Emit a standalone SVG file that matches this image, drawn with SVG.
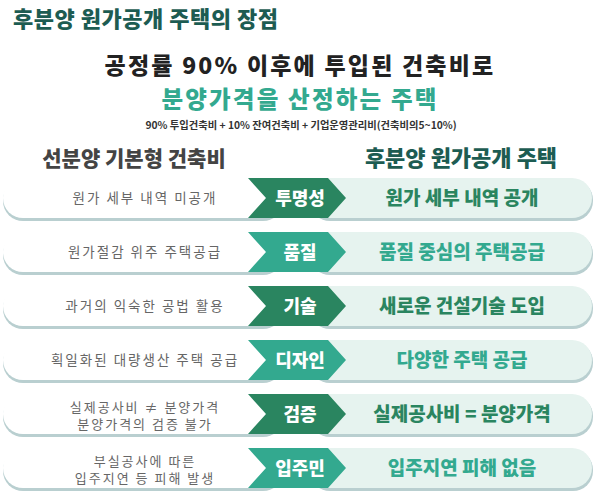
<svg xmlns="http://www.w3.org/2000/svg" width="600" height="496" viewBox="0 0 600 496">
<style>
text{font-family:"Noto Sans CJK KR","Noto Sans",sans-serif}
.title{font-size:22px;font-weight:900;fill:#1d5c52;letter-spacing:0.5px}
.head1{font-size:23px;font-weight:900;fill:#222;text-anchor:middle;letter-spacing:2.2px}
.head2{font-size:23.5px;font-weight:900;fill:#33a98f;text-anchor:middle;letter-spacing:2.2px}
.sub{font-size:10.3px;font-weight:700;fill:#333;text-anchor:middle}
.colL{font-size:21px;font-weight:900;fill:#444;text-anchor:middle}
.colR{font-size:22px;font-weight:900;fill:#1d5c52;text-anchor:middle}
.lt{font-size:13.5px;fill:#666;text-anchor:middle;letter-spacing:2px}
.lt2{font-size:13px;fill:#666;text-anchor:middle;letter-spacing:2px}
.tag{font-size:18px;font-weight:900;fill:#fff;text-anchor:middle}
.rt{font-size:19px;font-weight:900;text-anchor:middle}
.dk{fill:#2a8560}.lg{fill:#33a98f}
.lpill{fill:#fff}.rpill{fill:#e6f3ef}.shd{fill:#b9cfd0}
</style>
<defs>
<g id="rowbg">
<rect class="shd" x="3" y="2" width="280" height="41" rx="20"/>
<rect class="lpill" x="3" y="0" width="280" height="40" rx="20"/>
<rect class="shd" x="310" y="2" width="283" height="41" rx="20"/>
<rect class="rpill" x="310" y="0" width="282" height="40" rx="20"/>
</g>
</defs>
<rect width="600" height="496" fill="#fff"/>
<text class="title" x="13" y="27">후분양 원가공개 주택의 장점</text>
<text class="head1" x="300" y="73.5">공정률 90% 이후에 투입된 건축비로</text>
<text class="head2" x="300" y="107.5">분양가격을 산정하는 주택</text>
<text class="sub" x="301" y="129">90% 투입건축비 + 10% 잔여건축비 + 기업운영관리비(건축비의5~10%)</text>
<text class="colL" x="134" y="166">선분양 기본형 건축비</text>
<text class="colR" x="461" y="166">후분양 원가공개 주택</text>

<g id="row1" transform="translate(0,178)">
<use href="#rowbg"/>
<polygon class="dk" points="248,0 328,0 346,20 328,40 248,40 266,20"/>
<text class="lt" x="145" y="25">원가 세부 내역 미공개</text>
<text class="tag" x="300" y="27">투명성</text>
<text class="rt dk" x="462" y="27">원가 세부 내역 공개</text>
</g>
<g id="row2" transform="translate(0,232)">
<use href="#rowbg"/>
<polygon class="lg" points="248,0 328,0 346,20 328,40 248,40 266,20"/>
<text class="lt" x="145" y="25">원가절감 위주 주택공급</text>
<text class="tag" x="300" y="27">품질</text>
<text class="rt lg" x="462" y="27">품질 중심의 주택공급</text>
</g>
<g id="row3" transform="translate(0,286)">
<use href="#rowbg"/>
<polygon class="dk" points="248,0 328,0 346,20 328,40 248,40 266,20"/>
<text class="lt" x="145" y="25">과거의 익숙한 공법 활용</text>
<text class="tag" x="300" y="27">기술</text>
<text class="rt dk" x="462" y="27">새로운 건설기술 도입</text>
</g>
<g id="row4" transform="translate(0,340)">
<use href="#rowbg"/>
<polygon class="lg" points="248,0 328,0 346,20 328,40 248,40 266,20"/>
<text class="lt" x="145" y="25">획일화된 대량생산 주택 공급</text>
<text class="tag" x="300" y="27">디자인</text>
<text class="rt lg" x="462" y="27">다양한 주택 공급</text>
</g>
<g id="row5" transform="translate(0,394)">
<use href="#rowbg"/>
<polygon class="dk" points="248,0 328,0 346,20 328,40 248,40 266,20"/>
<text class="lt2" x="145" y="17.5">실제공사비 ≠ 분양가격</text>
<text class="lt2" x="145" y="35">분양가격의 검증 불가</text>
<text class="tag" x="300" y="27">검증</text>
<text class="rt dk" x="462" y="27">실제공사비 = 분양가격</text>
</g>
<g id="row6" transform="translate(0,448)">
<use href="#rowbg"/>
<polygon class="lg" points="248,0 328,0 346,20 328,40 248,40 266,20"/>
<text class="lt2" x="145" y="17.5">부실공사에 따른</text>
<text class="lt2" x="145" y="35">입주지연 등 피해 발생</text>
<text class="tag" x="300" y="27">입주민</text>
<text class="rt lg" x="462" y="27">입주지연 피해 없음</text>
</g>
<g id="connectors"/>
</svg>
